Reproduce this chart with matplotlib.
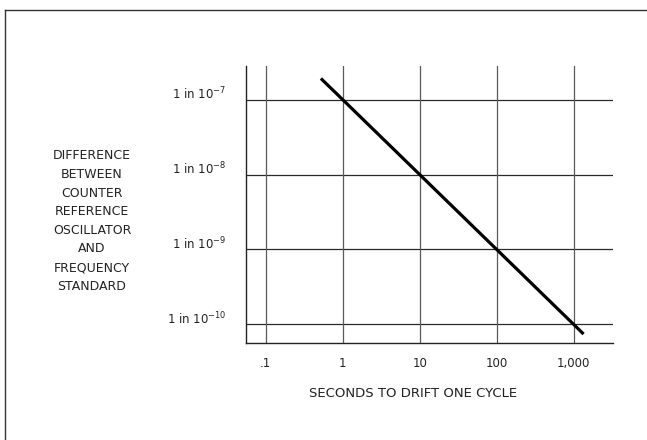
import matplotlib
matplotlib.use("Agg")
import matplotlib.pyplot as plt
from matplotlib.lines import Line2D

plt.rcParams['font.family'] = ['DejaVu Sans']

# Drift line: seconds to drift one cycle vs. fractional frequency difference
seconds = [0.52, 1, 10, 100, 1000, 1350]
difference = [1.92e-7, 1e-7, 1e-8, 1e-9, 1e-10, 7.4e-11]

x_ticks = [0.1, 1, 10, 100, 1000]
x_tick_labels = [".1", "1", "10", "100", "1,000"]
y_ticks = [1e-10, 1e-9, 1e-8, 1e-7]
y_tick_labels = ["1 in 10$^{-10}$", "1 in 10$^{-9}$", "1 in 10$^{-8}$", "1 in 10$^{-7}$"]

y_label_lines = ["DIFFERENCE", "BETWEEN", "COUNTER", "REFERENCE",
                 "OSCILLATOR", "AND", "FREQUENCY", "STANDARD"]
x_label = "SECONDS TO DRIFT ONE CYCLE"

fig = plt.figure(figsize=(6.47, 4.40), dpi=100)
ax = fig.add_axes([0.380, 0.2205, 0.567, 0.6295])

ax.set_xscale('log')
ax.set_yscale('log')
ax.set_xlim(0.055, 3230)
ax.set_ylim(10**-10.25, 10**-6.55)

ax.plot(seconds, difference, color='black', lw=2.3, solid_capstyle='butt', zorder=3)

for yt in y_ticks:
    ax.axhline(yt, color='#2a2a2a', lw=0.9, zorder=1)
for xt in x_ticks:
    ax.axvline(xt, color='#5a5a5a', lw=0.9, zorder=1)

ax.set_xticks(x_ticks)
ax.set_xticklabels(x_tick_labels)
ax.set_yticks(y_ticks)
ax.set_yticklabels(y_tick_labels)
ax.minorticks_off()
ax.tick_params(axis='x', length=0, pad=10, labelsize=8.5, colors='#222222')
ax.tick_params(axis='y', length=0, pad=14, labelsize=8.5, colors='#222222')
for lbl in ax.get_yticklabels():
    lbl.set_verticalalignment('baseline')

for side in ('top', 'right'):
    ax.spines[side].set_visible(False)
for side in ('left', 'bottom'):
    ax.spines[side].set_color('#222222')
    ax.spines[side].set_linewidth(1.0)

fig.text(413 / 647, 1 - 393 / 440, x_label, ha='center', va='center',
         fontsize=9.5, color='#222222')
fig.text(92 / 647, 1 - 221 / 440, "\n".join(y_label_lines), ha='center',
         va='center', fontsize=9, color='#222222', linespacing=1.56)

# Page frame: top and left rules
fig.add_artist(Line2D([5 / 647, 1.0], [1 - 10 / 440, 1 - 10 / 440],
                      transform=fig.transFigure, color='#333333', lw=1.0))
fig.add_artist(Line2D([5 / 647, 5 / 647], [0.0, 1 - 10 / 440],
                      transform=fig.transFigure, color='#333333', lw=1.0))

fig.savefig("out.png", dpi=100)
